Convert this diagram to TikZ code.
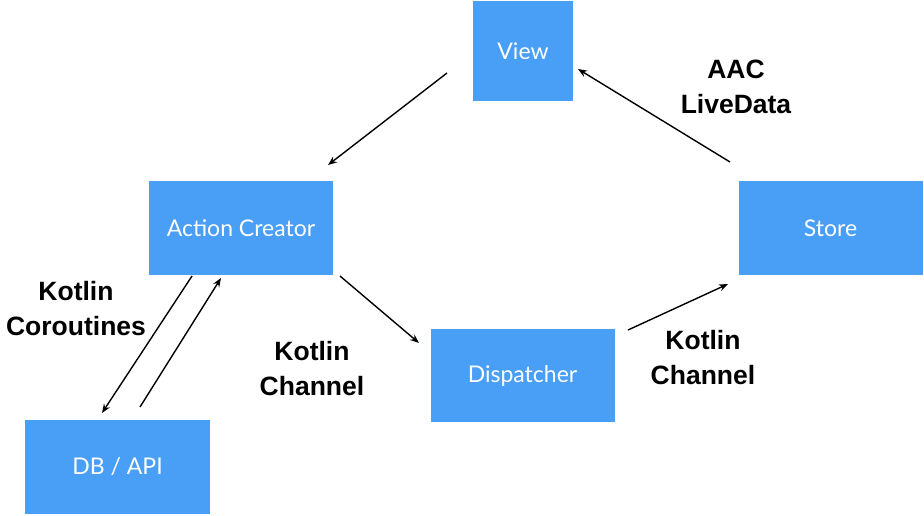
\documentclass[tikz,border=0pt]{standalone}
\usepackage{fontspec}
\setmainfont{Liberation Sans}
\newfontfamily\boxfont{Lato}
\usetikzlibrary{arrows.meta}
\definecolor{boxblue}{RGB}{73,158,246}
\tikzset{
  box/.style={fill=boxblue, draw=none, inner sep=0pt, text=white, font=\boxfont\fontsize{23}{27}\selectfont},
  lbl/.style={font=\bfseries\fontsize{26.5}{35}\selectfont, align=center, text=black},
  arr/.style={line width=1.4pt, -{Stealth[length=9pt,width=7pt]}}
}
\begin{document}
\begin{tikzpicture}[x=1pt,y=-1pt]
\useasboundingbox (0,0) rectangle (924,515);
\node[box, minimum width=100pt, minimum height=100pt] (view) at (523,51) {View};
\node[box, minimum width=184pt, minimum height=94pt] (ac) at (241,228) {Action Creator};
\node[box, minimum width=184pt, minimum height=94pt] (store) at (830.5,228) {Store};
\node[box, minimum width=184pt, minimum height=93pt] (disp) at (522.5,375.5) {Dispatcher};
\node[box, minimum width=185pt, minimum height=94pt] (db) at (117.5,467) {DB / API};

\coordinate (a1s) at (447,73);   \coordinate (a1e) at (328,165);
\coordinate (a2s) at (730,162);  \coordinate (a2e) at (578,69);
\coordinate (a3s) at (340,276);  \coordinate (a3e) at (419,343);
\coordinate (a4s) at (628,330);  \coordinate (a4e) at (728,284);
\coordinate (a5s) at (192,276);  \coordinate (a5e) at (102,413);
\coordinate (a6s) at (140,407);  \coordinate (a6e) at (221,278);

\draw[arr] (a1s) -- (a1e);
\draw[arr] (a2s) -- (a2e);
\draw[arr] (a3s) -- (a3e);
\draw[arr] (a4s) -- (a4e);
\draw[arr] (a5s) -- (a5e);
\draw[arr] (a6s) -- (a6e);

\node[lbl] (l1) at (736,87) {AAC\\LiveData};
\node[lbl] (l2) at (76,309) {Kotlin\\Coroutines};
\node[lbl] (l3) at (312,369) {Kotlin\\Channel};
\node[lbl] (l4) at (703,358) {Kotlin\\Channel};
\end{tikzpicture}
\end{document}
